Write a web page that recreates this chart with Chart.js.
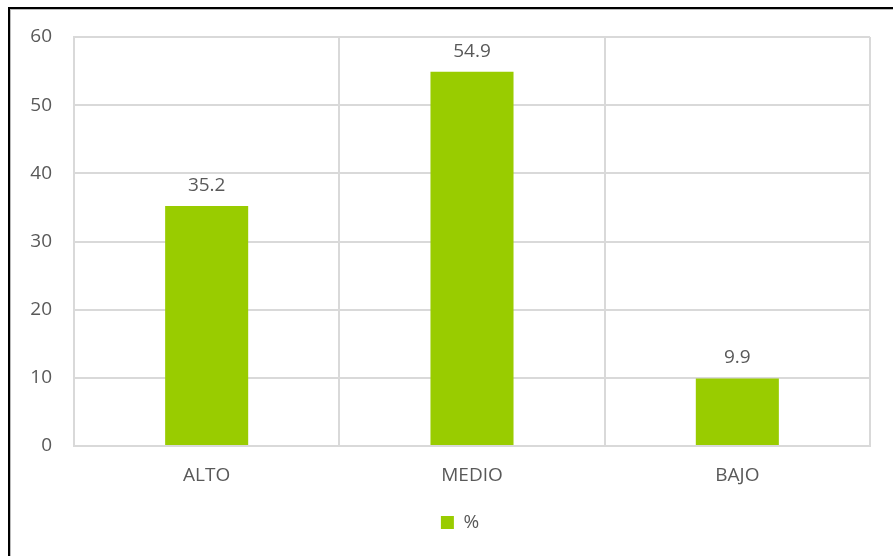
<!DOCTYPE html>
<html>
<head>
<meta charset="utf-8">
<script src="https://cdn.jsdelivr.net/npm/chart.js@4.4.0/dist/chart.umd.min.js"></script>
<style>
  html, body { margin: 0; padding: 0; background: #fff; }
  #wrap { position: relative; width: 893px; height: 556px; overflow: hidden; }
  #frame {
    position: absolute; left: 8px; top: 7px; right: -10px; bottom: -10px;
    border-top: 2px solid #000; border-left: 2px solid #000;
    box-shadow: 1px 1px 0 #bbb inset;
  }
  #chart { position: absolute; left: 0; top: 0; }
</style>
</head>
<body>
<div id="wrap">
  <div id="frame"></div>
  <canvas id="chart" width="893" height="556"></canvas>
</div>
<script>
// Chart data
const categories = ['ALTO', 'MEDIO', 'BAJO'];
const percentValues = [35.2, 54.9, 9.9];
const seriesLabel = '%';

const textColor = '#595959';
const gridColor = '#d9d9d9';
const barColor = '#99cc00';
const fontFamily = "'Open Sans', 'Noto Sans', sans-serif";

/**
 * Draws the value above each bar
 */
const valueLabels = {
  id: 'valueLabels',
  afterDatasetsDraw(chart) {
    const ctx = chart.ctx;
    ctx.save();
    ctx.font = `19px ${fontFamily}`;
    ctx.fillStyle = textColor;
    ctx.textAlign = 'center';
    ctx.textBaseline = 'bottom';
    chart.getDatasetMeta(0).data.forEach((bar, i) => {
      ctx.fillText(percentValues[i].toFixed(1), bar.x, bar.y - 11);
    });
    ctx.restore();
  }
};

/**
 * Nudge the legend to the right, like the original
 */
const legendShift = {
  id: 'legendShift',
  afterLayout(chart) {
    if (chart.legend) {
      chart.legend.left += 20;
      chart.legend.right += 20;
    }
  }
};

const canvas = document.getElementById('chart');

new Chart(canvas, {
  type: 'bar',
  data: {
    labels: categories,
    datasets: [{
      label: seriesLabel,
      data: percentValues,
      backgroundColor: barColor,
      borderWidth: 0,
      categoryPercentage: 1,
      barPercentage: 0.313
    }]
  },
  options: {
    responsive: false,
    animation: false,
    layout: {
      padding: { left: 10, right: 23, top: 37, bottom: 14 }
    },
    plugins: {
      legend: {
        position: 'bottom',
        labels: {
          boxWidth: 13,
          boxHeight: 13,
          padding: 10,
          color: textColor,
          font: { family: fontFamily, size: 19 }
        }
      },
      tooltip: { enabled: false }
    },
    scales: {
      x: {
        grid: { color: gridColor, lineWidth: 2, drawTicks: false, offset: true },
        border: { color: gridColor, width: 2 },
        ticks: {
          color: textColor,
          padding: 18,
          font: { family: fontFamily, size: 19 }
        },
        afterFit(scale) { scale.height = 57; }
      },
      y: {
        min: 0,
        max: 60,
        grid: { color: gridColor, lineWidth: 2, drawTicks: false },
        border: { color: gridColor, width: 2 },
        ticks: {
          stepSize: 10,
          color: textColor,
          padding: 22,
          font: { family: fontFamily, size: 19 }
        },
        afterFit(scale) { scale.width = 64; }
      }
    }
  },
  plugins: [valueLabels, legendShift]
});
</script>
</body>
</html>
